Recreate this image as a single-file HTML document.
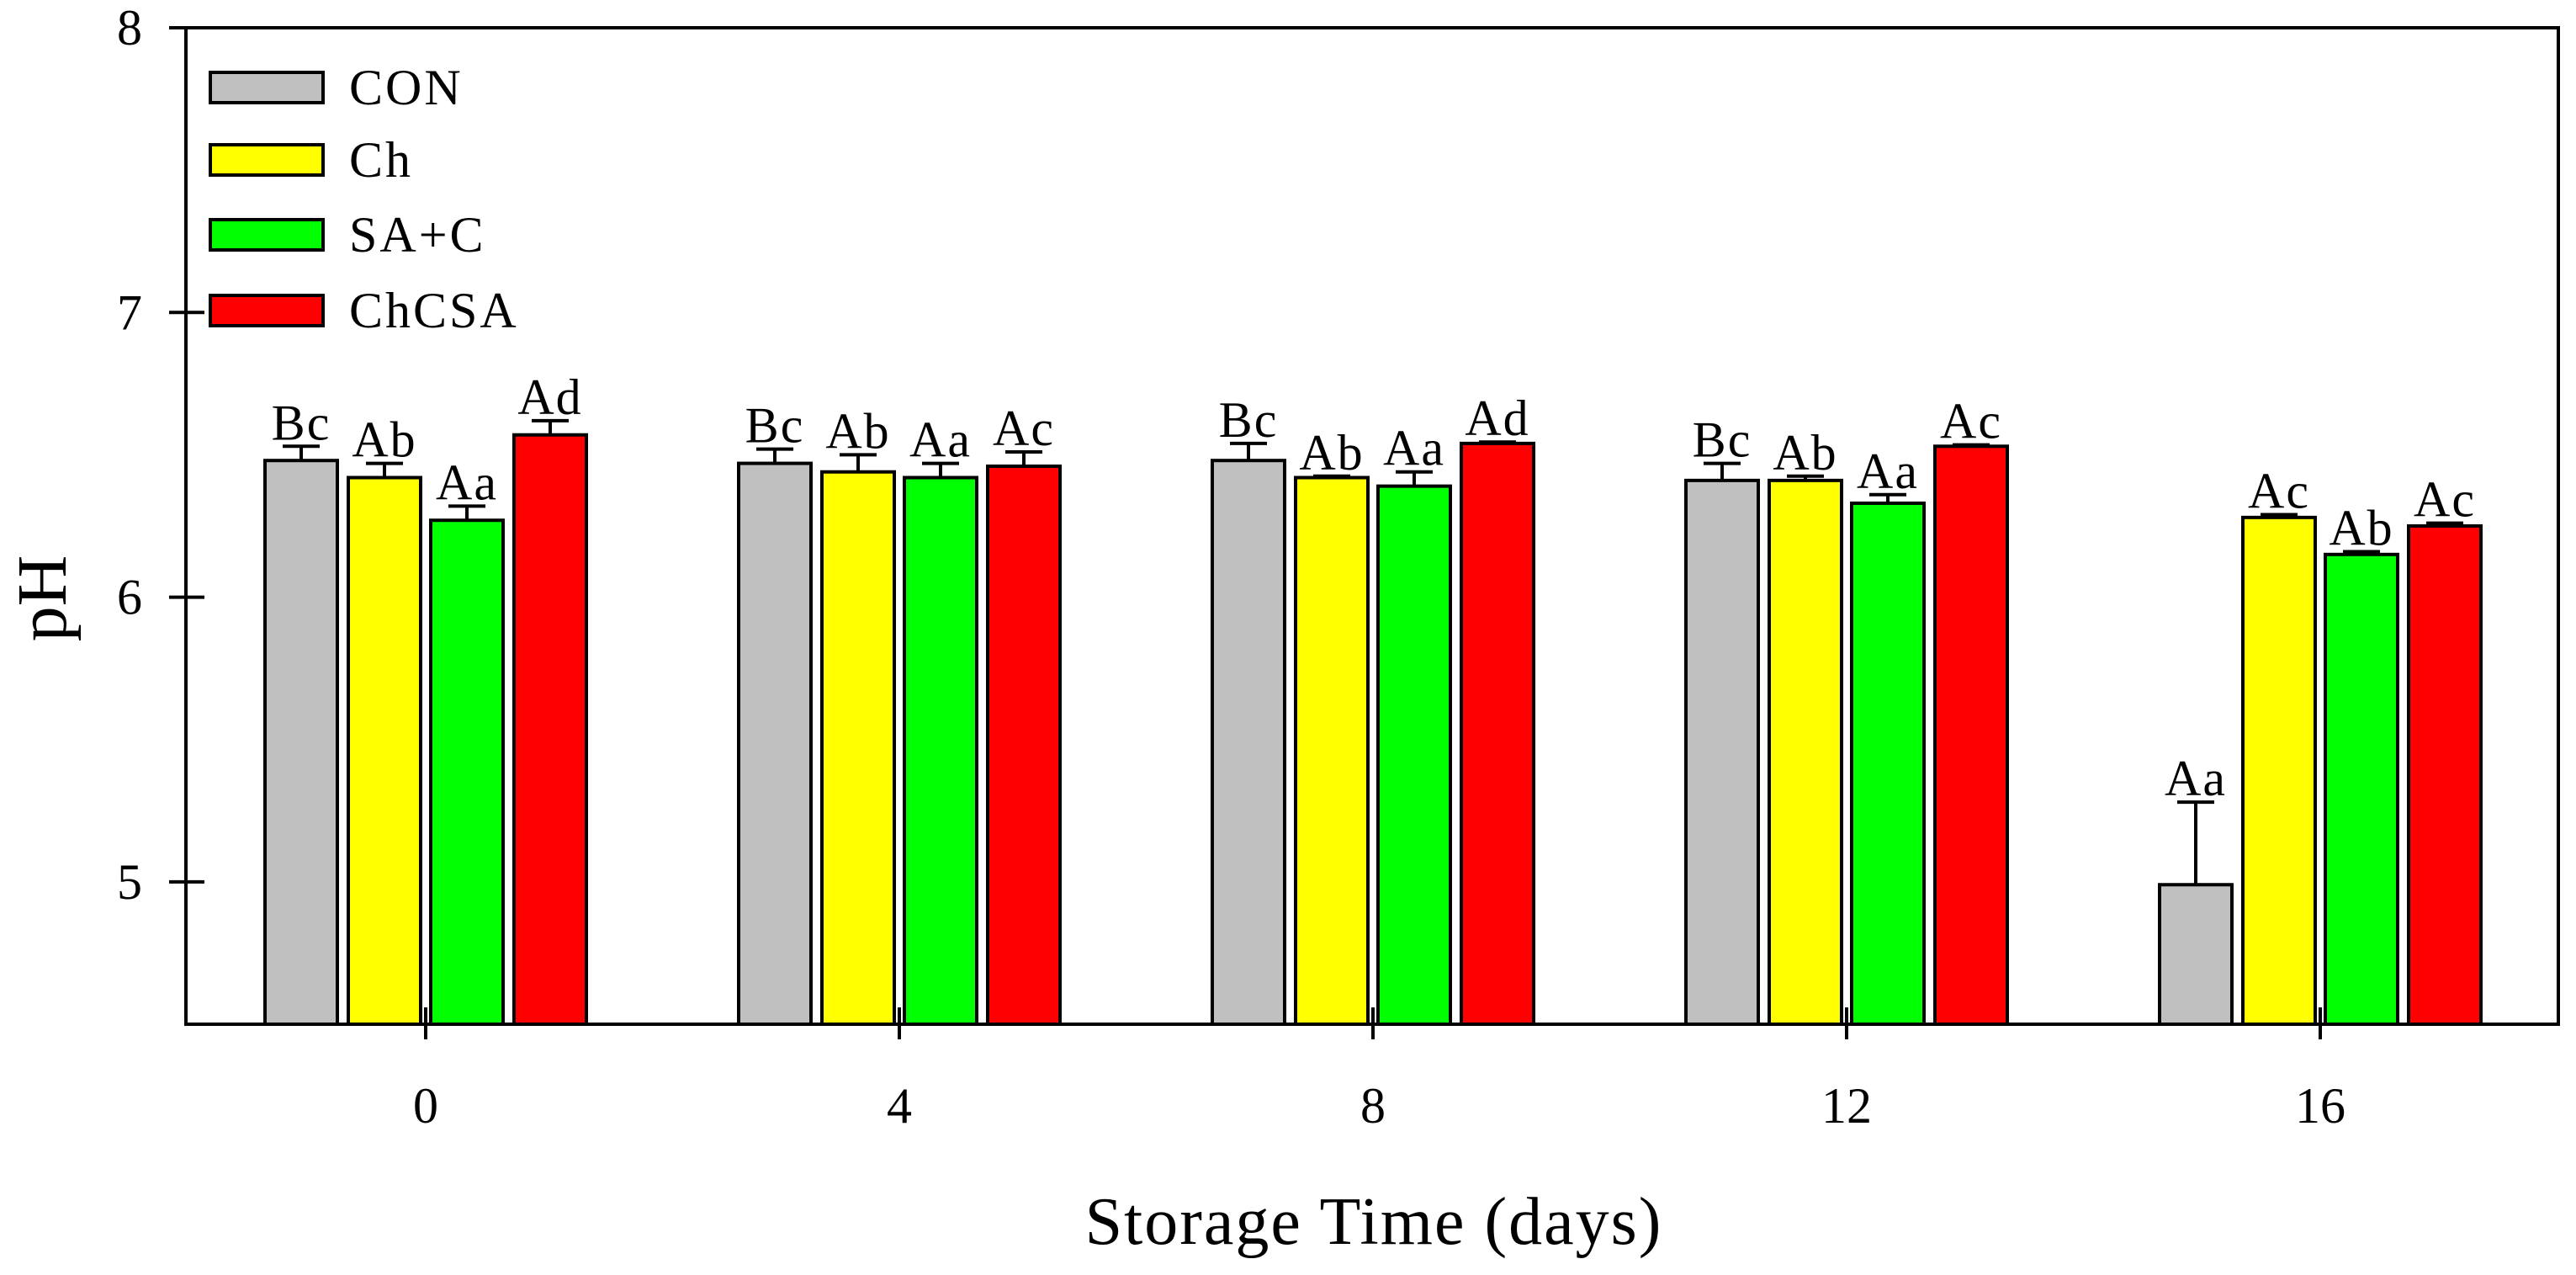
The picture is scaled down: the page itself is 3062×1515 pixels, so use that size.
<!DOCTYPE html>
<html><head><meta charset="utf-8"><style>
html,body{margin:0;padding:0;background:#fff;}
svg text{font-family:"Liberation Serif",serif;fill:#000;}
</style></head><body>
<svg id="chart" width="3062" height="1510" viewBox="0 0 3062 1510" xmlns="http://www.w3.org/2000/svg"></svg>
<script>
const categories = ["0","4","8","12","16"];
const seriesNames = ["CON","Ch","SA+C","ChCSA"];
const conValues = [6.48,6.47,6.48,6.41,4.99];
const chValues = [6.42,6.44,6.42,6.41,6.28];
const saValues = [6.27,6.42,6.39,6.33,6.15];
const chcsaValues = [6.57,6.46,6.54,6.53,6.25];
const conErr = [0.05,0.05,0.06,0.06,0.29];
const chErr = [0.05,0.06,0.005,0.015,0.01];
const saErr = [0.05,0.05,0.05,0.03,0.01];
const chcsaErr = [0.05,0.05,0.005,0.005,0.01];
const conLabels = ["Bc","Bc","Bc","Bc","Aa"];
const chLabels = ["Ab","Ab","Ab","Ab","Ac"];
const saLabels = ["Aa","Aa","Aa","Aa","Ab"];
const chcsaLabels = ["Ad","Ac","Ad","Ac","Ac"];
const yTicks = [5,6,7,8];

const colors = ["#c0c0c0","#ffff00","#00ff00","#ff0000"];
const allValues = [conValues,chValues,saValues,chcsaValues];
const allErr = [conErr,chErr,saErr,chcsaErr];
const allLabels = [conLabels,chLabels,saLabels,chcsaLabels];
const L=221,R=3041,T=33,B=1217,yMin=4.5,yMax=8;
const y = v => B - (v-yMin)/(yMax-yMin)*(B-T);
const x = i => 506 + i*563;
const svg=document.getElementById('chart');
const NS="http://www.w3.org/2000/svg";
function mk(tag,attrs,parent){const e=document.createElementNS(NS,tag);for(const k in attrs)e.setAttribute(k,attrs[k]);(parent||svg).appendChild(e);return e;}

const offs=[-148,-49,49,148], bw=86;
allValues.forEach((vals,s)=>{
  vals.forEach((v,i)=>{
    const cx=x(i)+offs[s];
    const r=mk('rect',{x:cx-bw/2,y:y(v),width:bw,height:B-y(v),fill:colors[s],stroke:'#000','stroke-width':4});
    
    
    const top=y(v+allErr[s][i]);
    const eb=mk('path',{d:`M${cx} ${y(v)} V${top} M${cx-22} ${top} H${cx+22}`,stroke:'#000','stroke-width':4,fill:'none'});
    
    
    const t=mk('text',{x:cx,y:top-8,'text-anchor':'middle','font-size':60,'letter-spacing':2});
    t.textContent=allLabels[s][i];
    
    
  });
});
const fr=mk('rect',{x:L,y:T,width:R-L,height:B-T,fill:'none',stroke:'#000','stroke-width':4});


yTicks.forEach(v=>{
  const tk=mk('line',{x1:201,x2:243,y1:y(v),y2:y(v),stroke:'#000','stroke-width':4});
  
  
  const t=mk('text',{x:154,y:y(v)+20,'text-anchor':'middle','font-size':60});
  t.textContent=v;
  
  
});
categories.forEach((c,i)=>{
  const tk=mk('line',{x1:x(i),x2:x(i),y1:B-20,y2:B+18,stroke:'#000','stroke-width':4});
  
  
  const t=mk('text',{x:x(i),y:1334,'text-anchor':'middle','font-size':60});
  t.textContent=c;
  
  
});
const legY=[104,190,279,369];
seriesNames.forEach((n,s)=>{
  const r=mk('rect',{x:250,y:legY[s]-18,width:134,height:36,fill:colors[s],stroke:'#000','stroke-width':4});
  
  
  const t=mk('text',{x:415,y:legY[s]+20,'font-size':60,'letter-spacing':3});
  t.textContent=n;
  
  
});
const yl=mk('text',{x:0,y:0,'text-anchor':'middle','font-size':84,transform:'translate(78,711) rotate(-90)'});
yl.textContent='pH';


const xl=mk('text',{x:1633,y:1478,'text-anchor':'middle','font-size':80,'letter-spacing':2});
xl.textContent='Storage Time (days)';


</script>
</body></html>
